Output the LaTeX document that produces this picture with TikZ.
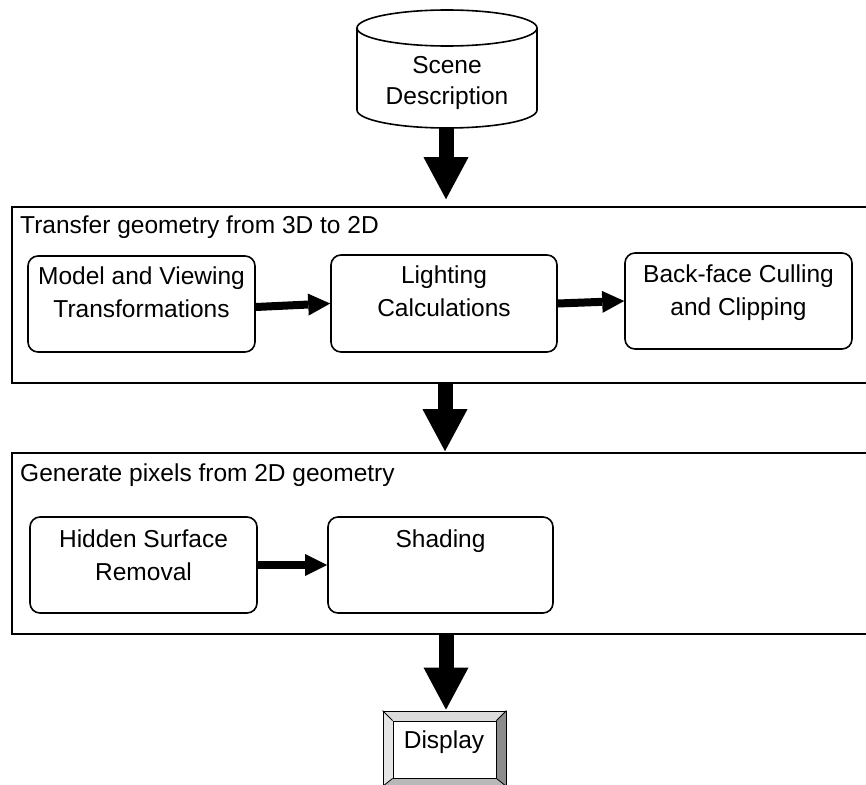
\documentclass[tikz,border=0pt]{standalone}
\usepackage{fontspec}
\setmainfont{Liberation Sans}
\usetikzlibrary{arrows.meta}
\begin{document}
\begin{tikzpicture}[x=1pt,y=-1pt,
  txt/.style={font=\fontsize{24.5}{33}\selectfont, inner sep=0pt, align=center},
  stagebox/.style={draw, line width=1.6pt, rounded corners=10pt, fill=white},
  group/.style={draw, line width=1.6pt, rectangle},
  smallarrow/.style={line width=8pt, -{Triangle[length=22pt,width=22pt,line width=0pt]}},
  bigarrow/.style={line width=15pt, -{Triangle[length=42pt,width=45pt,line width=0pt]}},
  bevelline/.style={draw=black, line width=0.8pt, line join=round}]
\useasboundingbox (0,0) rectangle (866,784);
\clip (0,0) rectangle (866,784);
\fill[white] (0,0) rectangle (866,784);

% scene description (cylinder)
\filldraw[fill=white, line width=1.6pt]
  (357,28) -- (357,110) arc[start angle=180,end angle=360,x radius=90pt,y radius=18pt] -- (537,28);
\draw[line width=1.6pt, fill=white] (447,28) ellipse [x radius=90pt, y radius=18pt];
\node[txt, font=\fontsize{24.5}{31}\selectfont, anchor=north] (scene) at (447,56) {Scene\\Description};
\coordinate (scenebot) at (446,127);

% first group
\node[group, minimum width=868pt, minimum height=176pt] (c1) at (446,295) {};
\node[txt, anchor=base west] (c1label) at (20,233) {Transfer geometry from 3D to 2D};
\node[stagebox, minimum width=227pt, minimum height=96pt] (mvt) at (141.5,304) {};
\node[txt, anchor=north] (mvttext) at ([yshift=-11pt]mvt.north) {Model and Viewing\\Transformations};
\node[stagebox, minimum width=226pt, minimum height=97pt] (light) at (444,303.5) {};
\node[txt, anchor=north] (lighttext) at ([yshift=-11pt]light.north) {Lighting\\Calculations};
\node[stagebox, minimum width=227pt, minimum height=96pt] (back) at (738.5,301) {};
\node[txt, anchor=north] (backtext) at ([yshift=-12pt]back.north) {Back-face Culling\\and Clipping};

% second group
\node[group, minimum width=868pt, minimum height=181pt] (c2) at (446,543.5) {};
\node[txt, anchor=base west] (c2label) at (20,481) {Generate pixels from 2D geometry};
\node[stagebox, minimum width=227pt, minimum height=96pt] (hidden) at (143.5,565) {};
\node[txt, anchor=north] (hiddentext) at ([yshift=-13pt]hidden.north) {Hidden Surface\\Removal};
\node[stagebox, minimum width=225pt, minimum height=96pt] (shading) at (440.5,565) {};
\node[txt, anchor=north] (shadingtext) at ([yshift=-13pt]shading.north) {Shading};

% display (bevelled button)
\fill[black!14] (383,711) -- (506,711) -- (496,721) -- (393,721) -- cycle;
\fill[black!10] (383,711) -- (393,721) -- (393,778) -- (383,786) -- cycle;
\fill[black!45] (506,711) -- (496,721) -- (496,778) -- (506,786) -- cycle;
\fill[black!28] (383,786) -- (393,778) -- (496,778) -- (506,786) -- cycle;
\node[rectangle, draw, line width=0.8pt, minimum width=123pt, minimum height=75pt] (dispframe) at (444.5,748.5) {};
\node[rectangle, draw, line width=0.8pt, fill=white, minimum width=103pt, minimum height=57pt] (display) at (444.5,749.5) {};
\draw[bevelline] (dispframe.north west) -- (display.north west);
\draw[bevelline] (dispframe.north east) -- (display.north east);
\draw[bevelline] (dispframe.south west) -- (display.south west);
\draw[bevelline] (dispframe.south east) -- (display.south east);
\node[txt, anchor=base] (displaytext) at (444,748) {Display};

% flow arrows
\draw[bigarrow, shorten >=7pt] (scenebot) -- (scenebot |- c1.north);
\draw[bigarrow, shorten >=1pt] (445,0 |- c1.south) -- (445,0 |- c2.north);
\draw[bigarrow, shorten >=1pt] (446,0 |- c2.south) -- (446,0 |- dispframe.north);
\draw[smallarrow] ([yshift=-3pt]mvt.east) -- (light.west);
\draw[smallarrow] (light.east) -- (back.west);
\draw[smallarrow] (hidden.east) -- (shading.west);
\end{tikzpicture}
\end{document}
